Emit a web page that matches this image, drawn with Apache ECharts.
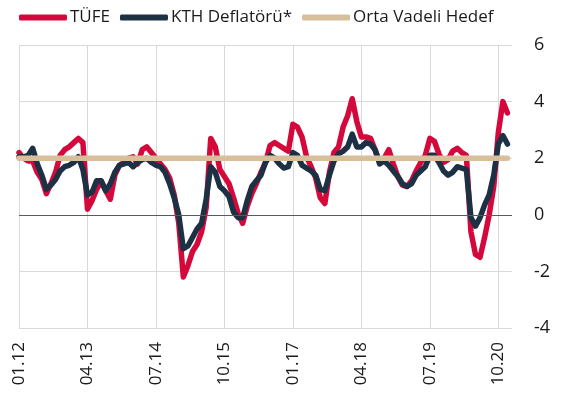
<!DOCTYPE html>
<html>
<head>
<meta charset="utf-8">
<script src="https://cdn.jsdelivr.net/npm/echarts@6/dist/echarts.min.js"></script>
<style>
  html, body { margin: 0; padding: 0; background: #fff; }
  #chart { width: 569px; height: 402px; }
</style>
</head>
<body>
<div id="chart"></div>
<script>
// monthly categories 01.12 .. 01.21
var months = [];
for (var y = 12; y <= 21; y++) {
  for (var m = 1; m <= 12; m++) {
    if (y === 21 && m > 1) break;
    months.push((m < 10 ? '0' + m : '' + m) + '.' + y);
  }
}

// TÜFE
var tufe = [
  2.2, 2.0, 1.9, 1.9, 1.5, 1.25, 0.75, 1.1, 1.5, 2.1, 2.3, 2.4, 2.55, 2.7, 2.55,
  0.2, 0.5, 0.9, 1.2, 0.85, 0.55, 1.4, 1.75, 1.85, 2.0, 2.05, 1.8, 2.3, 2.4, 2.2,
  2.0, 1.8, 1.6, 1.3, 0.7, -0.3, -2.2, -1.8, -1.3, -1.05, -0.6, 0.25, 2.7, 2.4, 1.6,
  1.35, 1.1, 0.6, 0.05, -0.3, 0.3, 0.75, 1.1, 1.5, 1.85, 2.45, 2.55, 2.45, 2.35, 2.25,
  3.2, 3.1, 2.75, 2.05, 1.7, 1.3, 0.6, 0.4, 1.5, 2.2, 2.4, 3.1, 3.5, 4.1, 3.3,
  2.75, 2.75, 2.7, 2.3, 1.85, 2.0, 2.3, 1.8, 1.35, 1.05, 1.0, 1.2, 1.55, 1.85, 2.1,
  2.7, 2.6, 2.15, 1.85, 1.95, 2.25, 2.35, 2.2, 2.1, -0.6, -1.4, -1.5, -0.8, 0.0, 1.0,
  2.9, 4.0, 3.6, null
];

// KTH Deflatörü*
var kth = [
  2.05, 2.05, 2.1, 2.35, 1.8, 1.4, 0.9, 1.05, 1.25, 1.55, 1.7, 1.75, 1.85, 2.05, 1.6,
  0.7, 0.8, 1.2, 1.2, 0.85, 1.1, 1.5, 1.75, 1.8, 1.85, 1.7, 1.85, 1.95, 2.0, 1.85,
  1.75, 1.7, 1.5, 1.1, 0.6, 0.0, -1.2, -1.1, -0.8, -0.5, -0.3, 0.55, 1.7, 1.5, 1.0,
  0.85, 0.65, 0.1, -0.1, -0.1, 0.5, 1.0, 1.2, 1.4, 1.85, 2.1, 2.0, 1.8, 1.65, 1.7,
  2.2, 2.1, 1.75, 1.65, 1.55, 1.4, 0.9, 0.85, 1.4, 1.9, 2.15, 2.25, 2.4, 2.85, 2.4,
  2.4, 2.55, 2.5, 2.3, 1.8, 1.9, 1.75, 1.55, 1.35, 1.1, 1.0, 1.1, 1.4, 1.55, 1.7,
  2.1, 2.1, 1.85, 1.55, 1.4, 1.5, 1.7, 1.65, 1.6, -0.1, -0.4, -0.1, 0.35, 0.7, 1.4,
  2.5, 2.8, 2.5, null
];

// Orta Vadeli Hedef
var hedef = months.map(function (d, i) { return i < months.length - 1 ? 2 : null; });

var yTicks = { min: -4, max: 6, interval: 2 };

var font = '"Open Sans", "Noto Sans", sans-serif';

var chart = echarts.init(document.getElementById('chart'));

function lineSeries(name, data, color) {
  return {
    name: name,
    type: 'line',
    data: data,
    showSymbol: false,
    symbol: 'none',
    connectNulls: false,
    lineStyle: { color: color, width: 5.5, cap: 'round', join: 'round' },
    itemStyle: { color: color }
  };
}

var s1 = lineSeries('TÜFE', tufe, '#d5083b');
s1.markLine = {
  silent: true,
  symbol: 'none',
  label: { show: false },
  lineStyle: { color: '#595959', width: 1, type: 'solid' },
  data: [{ yAxis: 0 }]
};

chart.setOption({
  animation: false,
  textStyle: { fontFamily: font },
  legend: {
    left: 14,
    top: 4,
    itemWidth: 48,
    itemHeight: 6,
    itemGap: 10,
    icon: 'roundRect',
    textStyle: { fontSize: 17, color: '#1a1a1a', fontFamily: font, padding: [0, 0, 0, -2] },
    data: ['TÜFE', 'KTH Deflatörü*', 'Orta Vadeli Hedef']
  },
  grid: { left: 19, right: 57, top: 45, bottom: 74 },
  xAxis: {
    type: 'category',
    data: months,
    boundaryGap: false,
    axisLine: { show: false },
    axisTick: { show: false },
    axisLabel: {
      interval: 14,
      rotate: 90,
      margin: 14,
      fontSize: 17,
      color: '#1a1a1a',
      fontFamily: font
    },
    splitLine: { show: true, interval: 14, lineStyle: { color: '#d9d9d9', width: 1 } }
  },
  yAxis: {
    type: 'value',
    position: 'right',
    min: yTicks.min,
    max: yTicks.max,
    interval: yTicks.interval,
    axisLine: { show: false },
    axisTick: { show: false },
    axisLabel: { margin: 22, fontSize: 18, color: '#1a1a1a', fontFamily: font },
    splitLine: { lineStyle: { color: '#d9d9d9', width: 1 } }
  },
  series: [
    s1,
    lineSeries('KTH Deflatörü*', kth, '#1d3145'),
    lineSeries('Orta Vadeli Hedef', hedef, '#d8bf9b')
  ]
});
</script>
</body>
</html>
